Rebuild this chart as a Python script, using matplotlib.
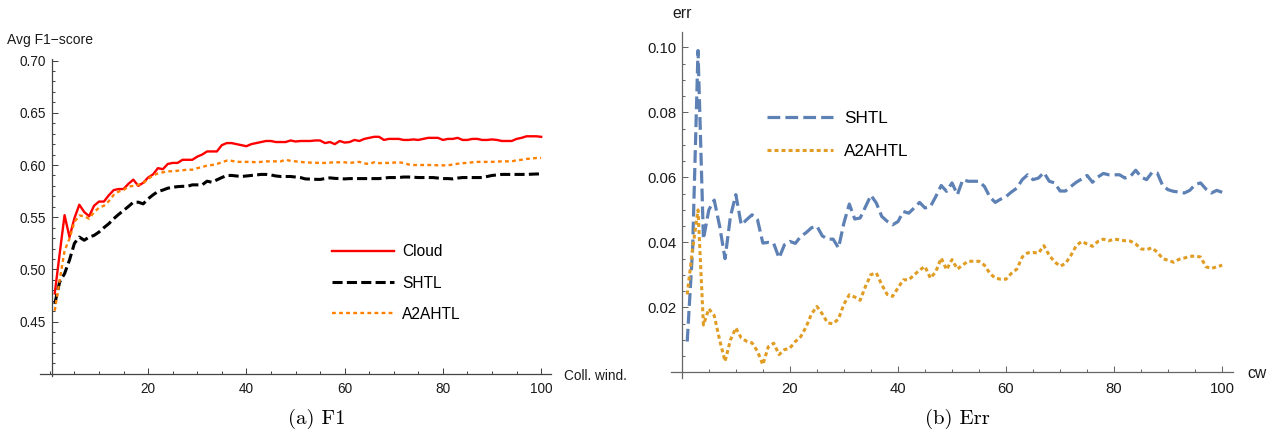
import matplotlib
matplotlib.use("Agg")
import matplotlib.pyplot as plt
from matplotlib.ticker import MultipleLocator, FixedLocator, FixedFormatter

# ---------------- data ----------------
coll_wind = list(range(1, 101))

cloud_f1 = [0.477, 0.515, 0.552, 0.531, 0.549, 0.562, 0.555, 0.551, 0.561, 0.565,
            0.565, 0.571, 0.576, 0.577, 0.577, 0.582, 0.586, 0.580, 0.583, 0.588,
            0.591, 0.597, 0.596, 0.601, 0.602, 0.602, 0.605, 0.605, 0.605, 0.608,
            0.610, 0.613, 0.613, 0.613, 0.619, 0.621, 0.621, 0.620, 0.619, 0.618,
            0.620, 0.621, 0.622, 0.623, 0.623, 0.622, 0.622, 0.622, 0.6235, 0.6225,
            0.623, 0.623, 0.623, 0.6235, 0.6235, 0.621, 0.622, 0.620, 0.623, 0.6215,
            0.622, 0.624, 0.623, 0.625, 0.626, 0.627, 0.627, 0.624, 0.625, 0.625,
            0.625, 0.624, 0.624, 0.6245, 0.624, 0.625, 0.626, 0.626, 0.626, 0.624,
            0.625, 0.625, 0.626, 0.624, 0.624, 0.625, 0.625, 0.624, 0.624, 0.6245,
            0.624, 0.623, 0.623, 0.623, 0.625, 0.626, 0.6275, 0.6275, 0.6275, 0.627]

shtl_f1 = [0.467, 0.488, 0.496, 0.509, 0.525, 0.531, 0.528, 0.531, 0.5326, 0.5358,
           0.540, 0.5438, 0.5486, 0.5527, 0.5565, 0.5603, 0.5644, 0.5644, 0.5628, 0.5676,
           0.5714, 0.5746, 0.576, 0.5778, 0.5787, 0.5793, 0.5796, 0.5796, 0.581, 0.581,
           0.581, 0.5845, 0.5835, 0.5858, 0.588, 0.590, 0.590, 0.5895, 0.589, 0.5895,
           0.590, 0.5905, 0.591, 0.591, 0.5905, 0.5895, 0.589, 0.589, 0.589, 0.5885,
           0.588, 0.5867, 0.5865, 0.5863, 0.5862, 0.587, 0.5877, 0.5872, 0.587, 0.5867,
           0.587, 0.587, 0.587, 0.587, 0.587, 0.587, 0.587, 0.5875, 0.588, 0.588,
           0.588, 0.5885, 0.5885, 0.5883, 0.588, 0.588, 0.588, 0.588, 0.5875, 0.587,
           0.587, 0.5867, 0.5875, 0.588, 0.588, 0.588, 0.588, 0.588, 0.589, 0.590,
           0.5905, 0.591, 0.591, 0.591, 0.591, 0.591, 0.591, 0.5912, 0.5914, 0.5915]

a2ahtl_f1 = [0.4605, 0.4897, 0.518, 0.5295, 0.5454, 0.5517, 0.551, 0.5486, 0.555, 0.559,
             0.561, 0.5654, 0.5714, 0.5746, 0.576, 0.5794, 0.580, 0.581, 0.5826, 0.5867,
             0.590, 0.592, 0.593, 0.594, 0.594, 0.5945, 0.595, 0.5955, 0.5955, 0.597,
             0.598, 0.5995, 0.600, 0.601, 0.6026, 0.6042, 0.604, 0.603, 0.603, 0.603,
             0.603, 0.6026, 0.603, 0.6035, 0.6035, 0.6035, 0.6035, 0.605, 0.604, 0.6035,
             0.603, 0.6025, 0.6023, 0.6022, 0.602, 0.602, 0.6023, 0.6026, 0.6026, 0.6026,
             0.602, 0.6025, 0.603, 0.6015, 0.601, 0.6026, 0.6018, 0.602, 0.602, 0.6023,
             0.6026, 0.602, 0.6005, 0.600, 0.600, 0.600, 0.600, 0.600, 0.5997, 0.5997,
             0.5997, 0.6005, 0.6012, 0.6018, 0.602, 0.6026, 0.603, 0.603, 0.603, 0.603,
             0.6033, 0.6035, 0.6035, 0.6035, 0.6045, 0.605, 0.6058, 0.6062, 0.6067, 0.6068]

shtl_err = [0.0095, 0.038, 0.099, 0.041, 0.050, 0.053, 0.045, 0.035, 0.048, 0.0547,
            0.0454, 0.047, 0.0485, 0.047, 0.0398, 0.040, 0.0397, 0.0352, 0.0393, 0.0403,
            0.0397, 0.0418, 0.043, 0.0445, 0.045, 0.042, 0.041, 0.041, 0.0383, 0.046,
            0.0518, 0.0472, 0.0475, 0.051, 0.0545, 0.0521, 0.048, 0.0465, 0.0454, 0.0464,
            0.0495, 0.049, 0.0506, 0.0523, 0.0506, 0.051, 0.0541, 0.0575, 0.0557, 0.0583,
            0.0547, 0.0593, 0.0588, 0.0588, 0.0588, 0.0572, 0.054, 0.0523, 0.0533, 0.0541,
            0.0555, 0.0567, 0.0593, 0.0608, 0.0593, 0.0598, 0.0615, 0.0588, 0.0583, 0.0558,
            0.0558, 0.0572, 0.0585, 0.0595, 0.0606, 0.0585, 0.0601, 0.0612, 0.0608, 0.0608,
            0.0608, 0.0598, 0.0603, 0.0622, 0.0601, 0.0593, 0.0615, 0.0613, 0.0574, 0.0562,
            0.0557, 0.0555, 0.0552, 0.056, 0.0578, 0.0583, 0.0564, 0.0552, 0.056, 0.0554]

a2ahtl_err = [0.024, 0.038, 0.050, 0.0146, 0.0196, 0.0175, 0.010, 0.0034, 0.010, 0.0137,
              0.0106, 0.0096, 0.0091, 0.0065, 0.0024, 0.0079, 0.009, 0.0055, 0.007, 0.0075,
              0.0095, 0.011, 0.014, 0.018, 0.0203, 0.018, 0.0152, 0.015, 0.0165, 0.021,
              0.0239, 0.0232, 0.0222, 0.0265, 0.0301, 0.0306, 0.027, 0.024, 0.0234, 0.026,
              0.0285, 0.0285, 0.030, 0.0315, 0.0326, 0.029, 0.031, 0.0352, 0.0316, 0.0347,
              0.0318, 0.0331, 0.0342, 0.0342, 0.0342, 0.033, 0.0305, 0.029, 0.0287, 0.0287,
              0.0305, 0.0318, 0.0355, 0.0368, 0.0369, 0.0367, 0.039, 0.036, 0.034, 0.0327,
              0.0335, 0.036, 0.039, 0.0403, 0.0395, 0.0388, 0.0403, 0.041, 0.0405, 0.041,
              0.0408, 0.0405, 0.0404, 0.0395, 0.038, 0.0378, 0.0383, 0.037, 0.035, 0.0345,
              0.0339, 0.0348, 0.0352, 0.0357, 0.0358, 0.0355, 0.0325, 0.032, 0.0325, 0.033]

x_ticks = [20, 40, 60, 80, 100]
f1_yticks = [0.45, 0.50, 0.55, 0.60, 0.65, 0.70]
err_yticks = [0.02, 0.04, 0.06, 0.08, 0.10]

# ---------------- style ----------------
plt.rcParams['font.family'] = ['Liberation Sans', 'DejaVu Sans']

W, H = 1282, 433
fig = plt.figure(figsize=(W / 100, H / 100), dpi=100)

ax1 = fig.add_axes([40 / W, (H - 376) / H, 511 / W, 317 / H])
ax2 = fig.add_axes([671 / W, (H - 378) / H, 562 / W, 346.3 / H])


def style_axes(ax, x0, y0, axcol, labsize, ypad, xpad, yfmt, yticks):
    for s in ('top', 'right'):
        ax.spines[s].set_visible(False)
    ax.spines['left'].set_position(('data', x0))
    ax.spines['bottom'].set_position(('data', y0))
    for s in ('left', 'bottom'):
        ax.spines[s].set_color(axcol)
        ax.spines[s].set_linewidth(0.9)
    ax.xaxis.set_major_locator(FixedLocator(x_ticks))
    ax.xaxis.set_major_formatter(FixedFormatter([str(v) for v in x_ticks]))
    ax.xaxis.set_minor_locator(MultipleLocator(5))
    ax.yaxis.set_major_locator(FixedLocator(yticks))
    ax.yaxis.set_major_formatter(FixedFormatter([yfmt.format(v) for v in yticks]))
    ax.tick_params(which='both', direction='in', color=axcol, width=0.75,
                   labelcolor='#1a1a1a', labelsize=labsize)
    ax.tick_params(which='major', length=4)
    ax.tick_params(which='minor', length=2.2)
    ax.tick_params(axis='y', which='both', pad=ypad)
    ax.tick_params(axis='x', which='both', pad=xpad)
    ax.patch.set_alpha(0)


# ---------------- left: F1 ----------------
ax1.plot(coll_wind, cloud_f1, color='#ff0000', lw=1.7, label='Cloud')
ax1.plot(coll_wind, shtl_f1, color='black', lw=2.2, linestyle=(0, (3.3, 1.4)), label='SHTL')
ax1.plot(coll_wind, a2ahtl_f1, color='#ff8000', lw=1.7, linestyle=(0, (1.6, 1.4)), label='A2AHTL')
ax1.set_xlim(-2, 102)
ax1.set_ylim(0.398, 0.7015)
ax1.yaxis.set_minor_locator(MultipleLocator(0.01))
style_axes(ax1, 0.4, 0.40, '#444444', 9.8, 4.5, 5.5, '{:.2f}', f1_yticks)

ax1.legend(loc='upper left', bbox_to_anchor=(332 / W, 1 - 244.5 / H),
           bbox_transform=fig.transFigure, frameon=False, borderpad=0,
           borderaxespad=0, handlelength=4.0, handletextpad=0.5,
           labelspacing=1.03, fontsize=11.2)

fig.text(7 / W, 1 - 44 / H, 'Avg F1\u2212score', fontsize=10, color='#1a1a1a',
         ha='left', va='baseline')
fig.text(564 / W, 1 - 380 / H, 'Coll. wind.', fontsize=9.8, color='#1a1a1a',
         ha='left', va='baseline')

# ---------------- right: Err ----------------
ax2.plot(coll_wind, shtl_err, color='#5e81b5', lw=2.3, linestyle=(0, (4.0, 1.6)), label='SHTL')
ax2.plot(coll_wind, a2ahtl_err, color='#e19c24', lw=2.2, linestyle=(0, (1.3, 1.0)), label='A2AHTL')
ax2.set_xlim(-2, 102)
ax2.set_ylim(-0.0017, 0.1048)
ax2.yaxis.set_minor_locator(MultipleLocator(0.005))
style_axes(ax2, 0, 0, '#666666', 10.7, 4.0, 6.6, '{:.2f}', err_yticks)

ax2.legend(loc='upper left', bbox_to_anchor=(766.7 / W, 1 - 111 / H),
           bbox_transform=fig.transFigure, frameon=False, borderpad=0,
           borderaxespad=0, handlelength=3.86, handletextpad=0.66,
           labelspacing=1.05, fontsize=12.3)

fig.text(672 / W, 1 - 18.3 / H, 'err', fontsize=11.3, color='#1a1a1a',
         ha='left', va='baseline')
fig.text(1247.5 / W, 1 - 378 / H, 'cw', fontsize=11.3, color='#1a1a1a',
         ha='left', va='baseline')

# ---------------- captions ----------------
fig.text(317 / W, 1 - 424 / H, '(a) F1', fontsize=15, family='cmr10',
         ha='center', va='baseline', color='black')
fig.text(957.5 / W, 1 - 424 / H, '(b) Err', fontsize=15, family='cmr10',
         ha='center', va='baseline', color='black')

fig.savefig('out.png', dpi=100)
